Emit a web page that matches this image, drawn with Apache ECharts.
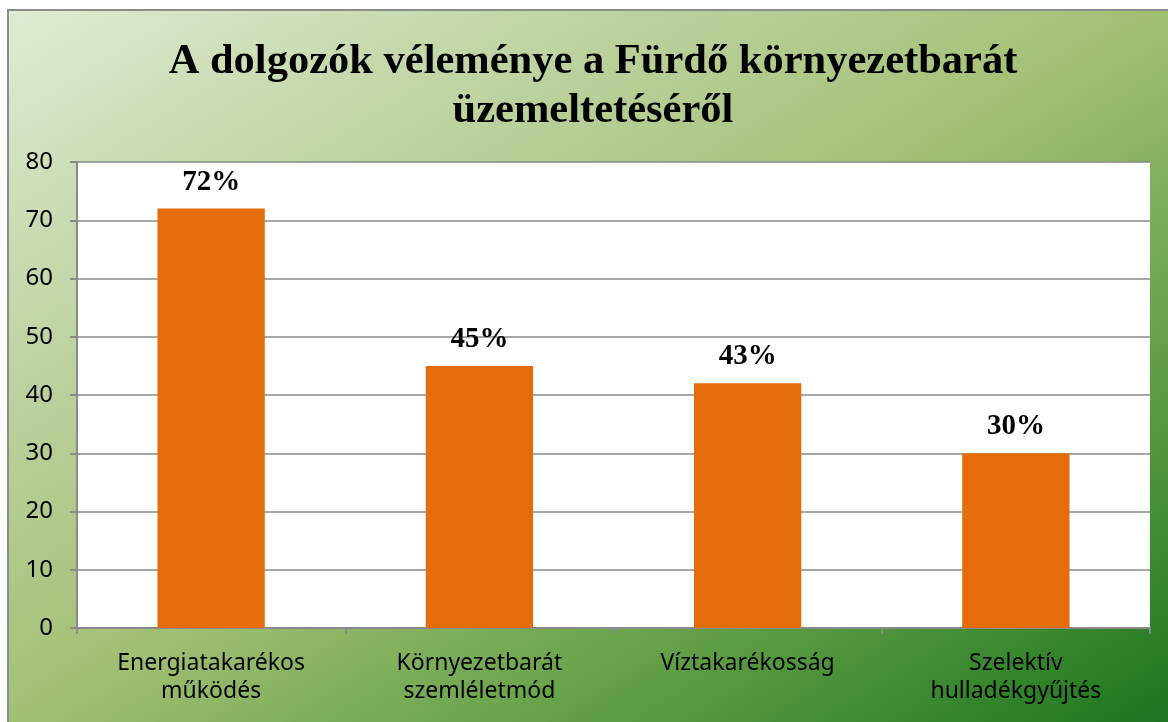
<!DOCTYPE html>
<html>
<head>
<meta charset="utf-8">
<script src="https://cdn.jsdelivr.net/npm/echarts@6/dist/echarts.min.js"></script>
<style>
    html, body { margin: 0; padding: 0; background: #ffffff; overflow: hidden; }
    #chart {
        position: absolute;
        left: 7px;
        top: 9px;
        width: 1161px;
        height: 713px;
        border-left: 2px solid #8c8c8c;
        border-top: 2px solid #8c8c8c;
        box-sizing: border-box;
    }
</style>
</head>
<body>
<div id="chart"></div>
<script>
    // adatok
    var categories = ['Energiatakarékos\nműködés', 'Környezetbarát\nszemléletmód', 'Víztakarékosság', 'Szelektív\nhulladékgyűjtés'];
    var values = [72, 45, 42, 30];
    var valueLabels = ['72%', '45%', '43%', '30%'];

    var chart = echarts.init(document.getElementById('chart'));
    var option = {
        // gradient so that bottom-left and top-right corners get the same shade
        backgroundColor: {
            type: 'linear', x: 0, y: 0, x2: 0.548, y2: 1.452,
            colorStops: [
                { offset: 0, color: '#e0ebd1' },
                { offset: 0.19, color: '#c6d9ae' },
                { offset: 0.5, color: '#a2c074' },
                { offset: 0.71, color: '#69a44b' },
                { offset: 0.97, color: '#237a22' },
                { offset: 1, color: '#1f7420' }
            ]
        },
        title: {
            text: 'A dolgozók véleménye a Fürdő környezetbarát\nüzemeltetéséről',
            left: 579,
            top: 22,
            textAlign: 'center',
            textStyle: {
                fontFamily: 'Liberation Serif',
                fontWeight: 'bold',
                fontSize: 42.5,
                lineHeight: 49,
                color: '#000000'
            }
        },
        grid: {
            left: 68,
            right: 18,
            top: 151,
            bottom: 94,
            show: true,
            backgroundColor: '#ffffff',
            borderWidth: 0
        },
        xAxis: {
            type: 'category',
            data: categories,
            axisLine: { lineStyle: { color: '#8a8a8a', width: 2 } },
            axisTick: { show: true, length: 6, lineStyle: { color: '#8a8a8a', width: 2 } },
            axisLabel: {
                margin: 21,
                fontFamily: 'Noto Sans',
                fontSize: 23,
                lineHeight: 28,
                color: '#000000'
            }
        },
        yAxis: {
            type: 'value',
            min: 0,
            max: 80,
            interval: 10,
            axisLine: { show: true, lineStyle: { color: '#8a8a8a', width: 2 } },
            axisTick: { show: true, length: 7, lineStyle: { color: '#8a8a8a', width: 2 } },
            splitLine: { lineStyle: { color: '#8a8a8a', width: 1.5 } },
            axisLabel: {
                margin: 24,
                fontFamily: 'Noto Sans',
                fontSize: 24,
                color: '#000000'
            }
        },
        series: [{
            type: 'bar',
            data: values,
            barWidth: '40%',
            itemStyle: { color: '#e46c0a' },
            label: {
                show: true,
                position: 'top',
                distance: 12,
                formatter: function (p) { return valueLabels[p.dataIndex]; },
                fontFamily: 'Liberation Serif',
                fontWeight: 'bold',
                fontSize: 29,
                color: '#000000'
            }
        }]
    };
    chart.setOption(option);
</script>
</body>
</html>
